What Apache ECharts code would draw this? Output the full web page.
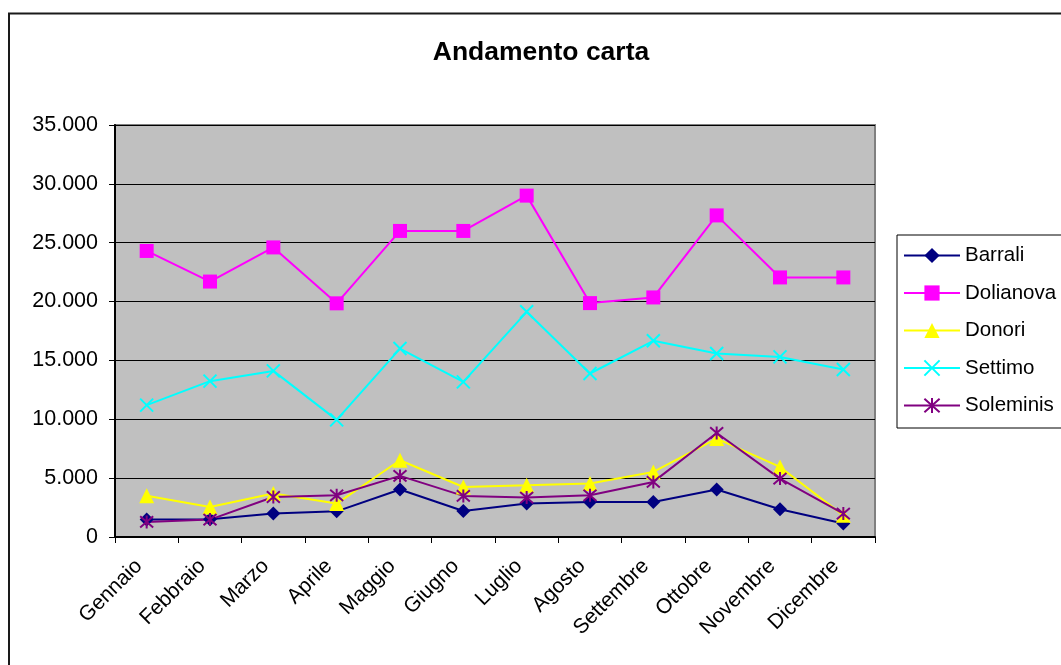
<!DOCTYPE html>
<html>
<head>
<meta charset="utf-8">
<script src="https://cdn.jsdelivr.net/npm/echarts@6/dist/echarts.min.js"></script>
<style>html,body{margin:0;padding:0;background:#fff;}#c{width:1061px;height:665px;}</style>
</head>
<body>
<div id="c"></div>
<script>
const months = ['Gennaio','Febbraio','Marzo','Aprile','Maggio','Giugno','Luglio','Agosto','Settembre','Ottobre','Novembre','Dicembre'];
const barrali   = [1480, 1500, 1990, 2180, 4030, 2210, 2840, 2980, 2980, 4030, 2360, 1140];
const dolianova = [24300, 21700, 24600, 19850, 26000, 26000, 29000, 19870, 20350, 27320, 22050, 22050];
const donori    = [3500, 2550, 3690, 2840, 6520, 4250, 4390, 4540, 5530, 8360, 5950, 1840];
const settimo   = [11200, 13240, 14110, 9950, 16010, 13180, 19130, 13890, 16670, 15590, 15300, 14230];
const soleminis = [1280, 1480, 3400, 3540, 5190, 3490, 3350, 3540, 4680, 8840, 4960, 1990];
const yTicks = [0, 5000, 10000, 15000, 20000, 25000, 30000, 35000];

const FONT = 'Liberation Sans, Arial, sans-serif';
const crossPath = 'path://M0,0L14,14M14,0L0,14';
const starPath = 'path://M0,0L14,14M14,0L0,14M7,-1L7,15';

function fmt(v){ return String(v).replace(/\B(?=(\d{3})+(?!\d))/g, '.'); }

function mk(name, data, color, symbol, size, stroke){
  return {
    name, type:'line', data,
    symbol, symbolSize: size,
    lineStyle:{color, width:2},
    itemStyle: stroke ? {color:'rgba(0,0,0,0)', borderColor:color, borderWidth:2} : {color, borderWidth:0},
    emphasis:{disabled:true}
  };
}

const chart = echarts.init(document.getElementById('c'), null, {renderer:'canvas'});
chart.setOption({
  animation:false,
  backgroundColor:'#fff',
  title:{
    text:'Andamento carta', left:536, top:34, textAlign:'center',
    textStyle:{fontFamily:FONT, fontWeight:'bold', fontSize:26.5, color:'#000'}
  },
  graphic:[{type:'rect', shape:{x:9, y:13.5, width:1100, height:700}, style:{fill:'none', stroke:'#1a1a1a', lineWidth:2}, silent:true, z:-10}],
  legend:{
    orient:'vertical', left:897, top:235,
    backgroundColor:'#fff', borderColor:'#000', borderWidth:1, borderRadius:0,
    padding:[10, 30, 12, 6],
    itemWidth:56, itemHeight:19, itemGap:16.5,
    textStyle:{fontFamily:FONT, fontSize:20.5, color:'#000', padding:[0,0,0,0]},
    data:['Barrali','Dolianova','Donori','Settimo','Soleminis']
  },
  grid:{left:115, top:125, width:760, height:412, show:true, backgroundColor:'#C0C0C0', borderColor:'#808080', borderWidth:2, containLabel:false},
  xAxis:{
    type:'category', data:months, boundaryGap:true,
    axisLine:{lineStyle:{color:'#000', width:2}},
    axisTick:{show:true, length:6, lineStyle:{color:'#000', width:1}},
    axisLabel:{rotate:45, margin:18, fontFamily:FONT, fontSize:21, color:'#000', interval:0, padding:[0,11,0,0]}
  },
  yAxis:{
    type:'value', min:yTicks[0], max:yTicks[yTicks.length-1], interval:5000,
    axisLine:{show:true, lineStyle:{color:'#000', width:2}},
    axisTick:{show:true, length:6, lineStyle:{color:'#000'}},
    axisLabel:{margin:17, fontFamily:FONT, fontSize:21.5, color:'#000', formatter:fmt},
    splitLine:{show:true, lineStyle:{color:'#000', width:1}}
  },
  series:[
    mk('Barrali', barrali, '#000080', 'diamond', 14, false),
    mk('Dolianova', dolianova, '#FF00FF', 'rect', 14, false),
    mk('Donori', donori, '#FFFF00', 'triangle', 15, false),
    mk('Settimo', settimo, '#00FFFF', crossPath, 13, true),
    mk('Soleminis', soleminis, '#800080', starPath, 13, true)
  ]
});
</script>
</body>
</html>
